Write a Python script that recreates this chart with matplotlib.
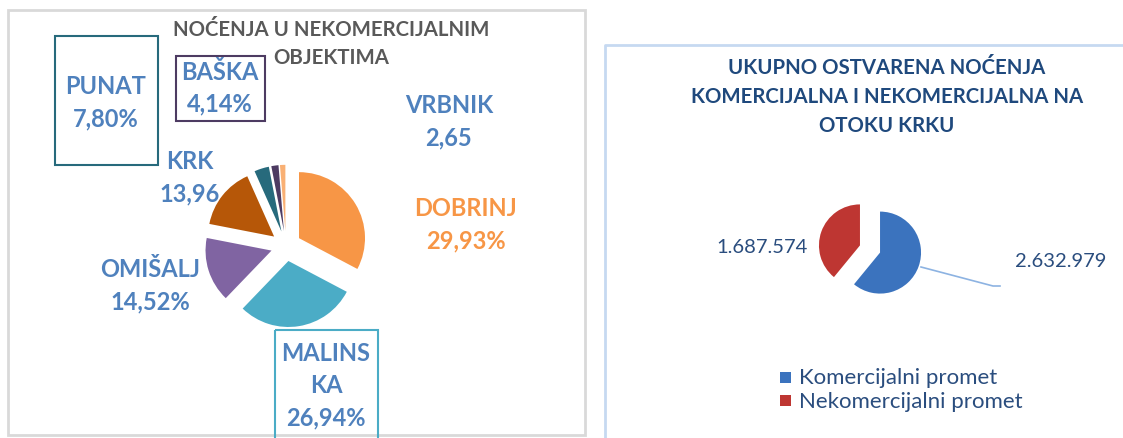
import matplotlib.pyplot as plt
from matplotlib.patches import Rectangle

plt.rcParams['font.family'] = ['Lato', 'DejaVu Sans']

# left chart: nocenja u nekomercijalnim objektima (clockwise from top)
left_names = ['DOBRINJ', 'MALINSKA', 'OMIŠALJ', 'KRK', 'PUNAT', 'BAŠKA', 'VRBNIK']
left_labels = ['29,93%', '26,94%', '14,52%', '13,96', '7,80%', '4,14%', '2,65']
left_shares = [29.93, 26.94, 14.52, 13.96, 3.3, 1.6, 1.2]   # slice sizes as drawn
left_colors = ['#F79646', '#4BACC6', '#8064A2', '#B65708', '#276A7C', '#4D3B62', '#F9B074']

# right chart: ukupno ostvarena nocenja
right_names = ['Komercijalni promet', 'Nekomercijalni promet']
right_values = [2632979, 1687574]
right_labels = ['2.632.979', '1.687.574']
right_colors = ['#3B73BE', '#BE3632']

W, H = 1123, 439
fig = plt.figure(figsize=(W / 100, H / 100), dpi=100)
bg = fig.add_axes([0, 0, 1, 1])
bg.set_xlim(0, W)
bg.set_ylim(H, 0)
bg.axis('off')

SPAN = 1.6


def pie_axes(cx, cy, r):
    # axes where one data unit equals r pixels, centred on (cx, cy)
    half = SPAN * r
    return fig.add_axes([(cx - half) / W, (H - cy - half) / H, 2 * half / W, 2 * half / H])


def fix_limits(ax):
    # pie() resets the limits, so put them back afterwards
    ax.set_xlim(-SPAN, SPAN)
    ax.set_ylim(-SPAN, SPAN)
    ax.set_aspect('equal')
    ax.axis('off')


# ---- left panel ----
bg.add_patch(Rectangle((8, 11), 577, 425, fill=False, ec='#D9D9D9', lw=2))
title_c = '#595959'
bg.text(331, 30, 'NOĆENJA U NEKOMERCIJALNIM', ha='center', va='center',
        fontsize=14.7, fontweight='bold', color=title_c)
bg.text(331, 58, 'OBJEKTIMA', ha='center', va='center',
        fontsize=14.7, fontweight='bold', color=title_c)

ax1 = pie_axes(286, 247, 66)
ax1.pie(left_shares, colors=left_colors, startangle=90, counterclock=False,
        explode=[0.23] * len(left_shares), radius=1.0,
        wedgeprops=dict(linewidth=0))
fix_limits(ax1)

lab_c = '#4F81BD'
lab_fs = 17


def two_line(x, y, a, b, color=lab_c):
    bg.text(x, y, a, ha='center', va='center', fontsize=lab_fs, fontweight='bold', color=color)
    bg.text(x, y + 32, b, ha='center', va='center', fontsize=lab_fs, fontweight='bold', color=color)


two_line(466, 209, left_names[0], left_labels[0], color=left_colors[0])
bg.add_patch(Rectangle((275, 331), 103, 115, fill=False, ec=left_colors[1], lw=1.5))
bg.text(326, 354, 'MALINS', ha='center', va='center', fontsize=lab_fs, fontweight='bold', color=lab_c)
two_line(326, 386, 'KA', left_labels[1])
two_line(150, 270, left_names[2], left_labels[2])
two_line(190, 162, left_names[3], left_labels[3])
bg.add_patch(Rectangle((55, 37), 103, 129, fill=False, ec=left_colors[4], lw=1.5))
two_line(106, 87, left_names[4], left_labels[4])
bg.add_patch(Rectangle((176, 57), 89, 65, fill=False, ec=left_colors[5], lw=1.5))
two_line(220, 72, left_names[5], left_labels[5])
two_line(449, 106, left_names[6], left_labels[6])

# ---- right panel ----
bg.plot([605, 605, W + 5], [H + 5, 46, 46], color='#C6D9F1', lw=2)
rt_c = '#1F497D'
for i, line in enumerate(['UKUPNO OSTVARENA NOĆENJA',
                          'KOMERCIJALNA I NEKOMERCIJALNA NA',
                          'OTOKU KRKU']):
    bg.text(887, 68 + i * 29, line, ha='center', va='center',
            fontsize=14.7, fontweight='bold', color=rt_c)

ax2 = pie_axes(870, 250, 41)
ax2.pie(right_values, colors=right_colors, startangle=90, counterclock=False,
        explode=[0.26, 0.26], wedgeprops=dict(linewidth=0))
fix_limits(ax2)

bg.plot([921, 993, 1000], [268, 287, 287], color='#8DB3E2', lw=1.2)
val_c = '#2A4D7E'
bg.text(1015, 262, right_labels[0], ha='left', va='center', fontsize=14.5, color=val_c)
bg.text(808, 248, right_labels[1], ha='right', va='center', fontsize=14.5, color=val_c)

for i, name in enumerate(right_names):
    y = 378 + i * 24
    bg.add_patch(Rectangle((780, y - 5.5), 11, 11, color=right_colors[i], lw=0))
    bg.text(799, y, name, ha='left', va='center', fontsize=16, color=val_c)

fig.savefig('out.png', dpi=100)
